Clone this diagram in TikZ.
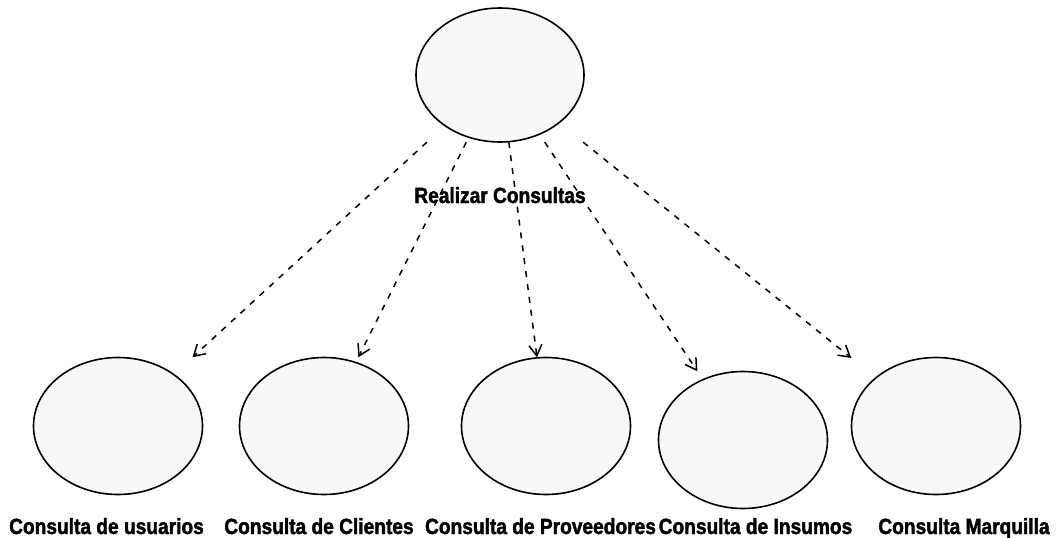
\documentclass[tikz,border=0pt]{standalone}
\usepackage{fontspec}
\setmainfont{Liberation Sans}
\newfontfamily\ucfont{Liberation Sans}[UprightFont=* Bold, FakeStretch=0.87, FakeBold=1.8]
\usetikzlibrary{arrows.meta}
\definecolor{ucfill}{RGB}{248,248,248}
\tikzset{
  % a use case: its box is the node, the oval is drawn inside it
  usecase/.style 2 args={rectangle, inner sep=0pt,
    minimum width=#1, minimum height=#2,
    append after command={\pgfextra{%
      \draw[draw=black, fill=ucfill, line width=1.6pt]
        (\tikzlastnode.center) ellipse [x radius=#1/2, y radius=#2/2];}}},
  uclabel/.style={inner sep=0pt, anchor=base, font=\ucfont\fontsize{22}{26}\selectfont},
  dep/.style={line width=1.5pt, dash pattern=on 6pt off 7pt,
    -{Straight Barb[length=11pt,width=13pt,line width=1.5pt]}}
}
\begin{document}
\begin{tikzpicture}[x=1pt,y=-1pt]
  \useasboundingbox (0,0) rectangle (1058,538);

  % main use case
  \node[usecase={168pt}{134pt}] (main) at (500,75) {};
  \node[uclabel] (mainlbl) at (500,203) {Realizar Consultas};

  % included use cases
  \node[usecase={169pt}{137pt}] (usr)  at (118,426) {};
  \node[usecase={169pt}{137pt}] (cli)  at (324,426) {};
  \node[usecase={169pt}{137pt}] (prov) at (546,426) {};
  \node[usecase={169pt}{137pt}] (ins)  at (743,440) {};
  \node[usecase={169pt}{137pt}] (marq) at (936,426) {};

  \node[uclabel] (usrlbl)  at (106.5,534) {Consulta de usuarios};
  \node[uclabel] (clilbl)  at (319,534) {Consulta de Clientes};
  \node[uclabel] (provlbl) at (540.5,534) {Consulta de Proveedores};
  \node[uclabel] (inslbl)  at (755.5,534) {Consulta de Insumos};
  \node[uclabel] (marqlbl) at (964,534) {Consulta Marquilla};

  % dependencies
  \draw[dep] (main) -- (usr);
  \draw[dep] (main) -- (cli);
  \draw[dep] (main) -- (prov);
  \draw[dep] (main) -- (ins);
  \draw[dep] (main) -- (marq);
\end{tikzpicture}
\end{document}
